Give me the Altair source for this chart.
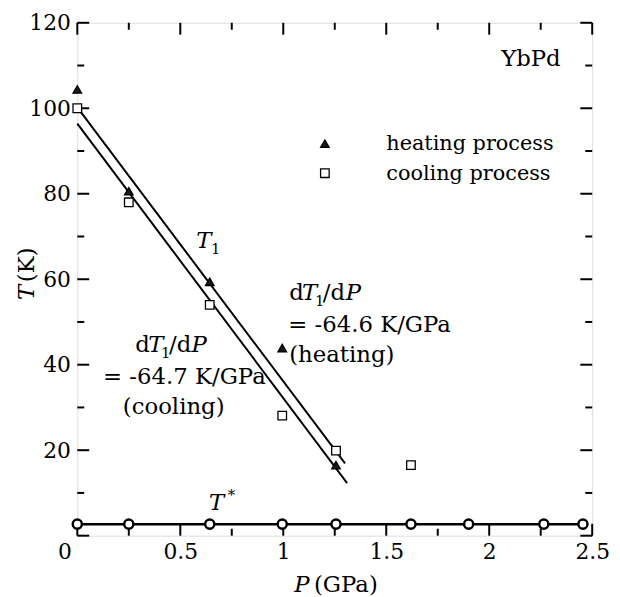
import altair as alt
import pandas as pd

SERIF = "DejaVu Serif"

# ---- data ----
heat_P = [0.0, 0.25, 0.643, 0.995, 1.256]
heat_T = [104.4, 80.6, 59.4, 43.9, 16.5]
cool_P = [0.0, 0.25, 0.643, 0.995, 1.256, 1.62]
cool_T = [100.0, 78.0, 54.0, 28.1, 19.9, 16.5]
tstar_P = [0.0, 0.25, 0.643, 0.995, 1.256, 1.62, 1.90, 2.265, 2.455]
tstar_T = [2.7, 2.7, 2.7, 2.7, 2.7, 2.7, 2.7, 2.7, 2.7]
fit_upper_P = [0.0, 1.30]
fit_upper_T = [100.2, 16.9]
fit_lower_P = [0.0, 1.31]
fit_lower_T = [96.4, 12.3]

# legend entries (drawn inside the plot)
legend_labels = ["heating process", "cooling process"]
legend_P = [1.202, 1.202]
legend_T = [91.7, 84.8]
legend_text_P = [1.50, 1.50]
legend_text_T = [90.2, 83.3]

x_major = [0, 0.5, 1, 1.5, 2, 2.5]
x_minor = [0.25, 0.75, 1.25, 1.75, 2.25]
y_major = [0, 20, 40, 60, 80, 100, 120]
y_minor = [10, 30, 50, 70, 90, 110]
y_labels = [20, 40, 60, 80, 100, 120]

# annotation text pieces (regular / italic / small)
reg_text = ["d", "/d", "= -64.7 K/GPa", "(cooling)",
            "d", "/d", "= -64.6 K/GPa", "(heating)", "YbPd"]
reg_P = [0.281, 0.445, 0.125, 0.221, 1.029, 1.192, 1.024, 1.029, 2.058]
reg_T = [42.86, 42.86, 35.44, 28.49, 55.13, 55.13, 47.72, 40.54, 109.8]
ital_text = ["T", "P", "T", "P", "T", "T"]
ital_P = [0.344, 0.555, 1.091, 1.303, 0.577, 0.639]
ital_T = [42.86, 42.86, 55.13, 55.13, 67.41, 6.02]
small_text = ["1", "1", "1", "*"]
small_P = [0.406, 1.154, 0.649, 0.730]
small_T = [41.47, 53.74, 66.02, 8.46]

W, H = 520, 518

XS = alt.Scale(domain=[0, 2.5], nice=False, zero=False)
YS = alt.Scale(domain=[0, 120], nice=False, zero=False)

XAXIS = alt.Axis(values=x_major, format="~g", domain=False, ticks=False, grid=False,
                 labelFont=SERIF, labelFontSize=22, labelColor="black", labelPadding=6,
                 labelFlush=False, labelOverlap=False,
                 labelOffset={"condition": {"test": "datum.value === 0", "value": -13}, "value": 0},
                 title=None)
YAXIS = alt.Axis(values=y_labels, format="d", domain=False, ticks=False, grid=False,
                 labelFont=SERIF, labelFontSize=22, labelColor="black", labelPadding=7,
                 labelFlush=False, labelOverlap=False, title=None)


def X(f):
    return alt.X(f, type="quantitative", scale=XS, axis=XAXIS)


def Y(f):
    return alt.Y(f, type="quantitative", scale=YS, axis=YAXIS)


layers = []

# ---- inward ticks ----
def xticks(vals, length, top):
    df = pd.DataFrame({"P": vals})
    if top:
        y, y2 = alt.value(0), alt.value(length)
    else:
        y, y2 = alt.value(H), alt.value(H - length)
    return alt.Chart(df).mark_rule(color="black", strokeWidth=2).encode(x=X("P"), y=y, y2=y2)


def yticks(vals, length, right):
    df = pd.DataFrame({"T": vals})
    if right:
        x, x2 = alt.value(W), alt.value(W - length)
    else:
        x, x2 = alt.value(0), alt.value(length)
    return alt.Chart(df).mark_rule(color="black", strokeWidth=2).encode(y=Y("T"), x=x, x2=x2)


for top in (False, True):
    layers.append(xticks(x_major, 12, top))
    layers.append(xticks(x_minor, 7, top))
for right in (False, True):
    layers.append(yticks(y_major, 12, right))
    layers.append(yticks(y_minor, 7, right))

# ---- fit lines ----
fits = pd.DataFrame({
    "P": fit_upper_P + fit_lower_P,
    "T": fit_upper_T + fit_lower_T,
    "fit": ["upper"] * len(fit_upper_P) + ["lower"] * len(fit_lower_P),
})
layers.append(alt.Chart(fits).mark_line(color="black", strokeWidth=2).encode(
    x=X("P"), y=Y("T"), detail="fit:N"))

# ---- T* line with open circles ----
tstar = pd.DataFrame({"P": tstar_P, "T": tstar_T})
layers.append(alt.Chart(tstar).mark_line(color="black", strokeWidth=2.5).encode(x=X("P"), y=Y("T")))
layers.append(alt.Chart(tstar).mark_point(shape="circle", size=85, filled=True, fill="white",
                                          stroke="black", strokeWidth=2.5, opacity=1).encode(
    x=X("P"), y=Y("T")))

# ---- heating / cooling points (plus legend keys) ----
dom = legend_labels
pts = pd.DataFrame({
    "P": heat_P + cool_P + legend_P,
    "T": heat_T + cool_T + legend_T,
    "process": [dom[0]] * len(heat_P) + [dom[1]] * len(cool_P) + dom,
})
layers.append(alt.Chart(pts).mark_point(filled=True, size=75, stroke="black", strokeWidth=1.3,
                                        opacity=1).encode(
    x=X("P"), y=Y("T"),
    shape=alt.Shape("process:N", scale=alt.Scale(domain=dom, range=["triangle-up", "square"]), legend=None),
    fill=alt.Fill("process:N", scale=alt.Scale(domain=dom, range=["#1a1a1a", "white"]), legend=None),
))
leg_txt = pd.DataFrame({"label": legend_labels, "P": legend_text_P, "T": legend_text_T})
layers.append(alt.Chart(leg_txt).mark_text(font=SERIF, fontSize=21, align="left", baseline="alphabetic",
                                           color="black").encode(x=X("P"), y=Y("T"), text="label:N"))

# ---- annotation texts ----
reg = pd.DataFrame({"label": reg_text, "P": reg_P, "T": reg_T})
ital = pd.DataFrame({"label": ital_text, "P": ital_P, "T": ital_T})
small = pd.DataFrame({"label": small_text, "P": small_P, "T": small_T})
layers.append(alt.Chart(reg).mark_text(font=SERIF, fontSize=23, align="left", baseline="alphabetic",
                                       color="black").encode(x=X("P"), y=Y("T"), text="label:N"))
layers.append(alt.Chart(ital).mark_text(font=SERIF, fontSize=23, fontStyle="italic", align="left",
                                        baseline="alphabetic", color="black").encode(
    x=X("P"), y=Y("T"), text="label:N"))
layers.append(alt.Chart(small).mark_text(font=SERIF, fontSize=15, align="left", baseline="alphabetic",
                                         color="black").encode(x=X("P"), y=Y("T"), text="label:N"))

# ---- axis titles (mixed italic / roman) ----
def title_piece(txt, x, y, italic, angle=0):
    kw = dict(font=SERIF, fontSize=23, align="left", baseline="alphabetic", color="black")
    if italic:
        kw["fontStyle"] = "italic"
    if angle:
        kw["angle"] = angle
    return alt.Chart(pd.DataFrame({"label": [txt]})).mark_text(**kw).encode(
        x=alt.value(x), y=alt.value(y), text="label:N")

layers.append(title_piece("P", 219, 575, True))
layers.append(title_piece("(GPa)", 239, 575, False))
layers.append(title_piece("T", -44, 280, True, 270))
layers.append(title_piece("(K)", -44, 262, False, 270))

chart = alt.layer(*layers).properties(
    width=W, height=H,
    padding={"left": 70, "top": 12, "right": 20, "bottom": 59},
    autosize=alt.AutoSizeParams(type="none"),
).configure_view(stroke="black", strokeWidth=2.5).configure(background="white")

chart.save("out.html", embed_options={"renderer": "svg", "actions": False})
